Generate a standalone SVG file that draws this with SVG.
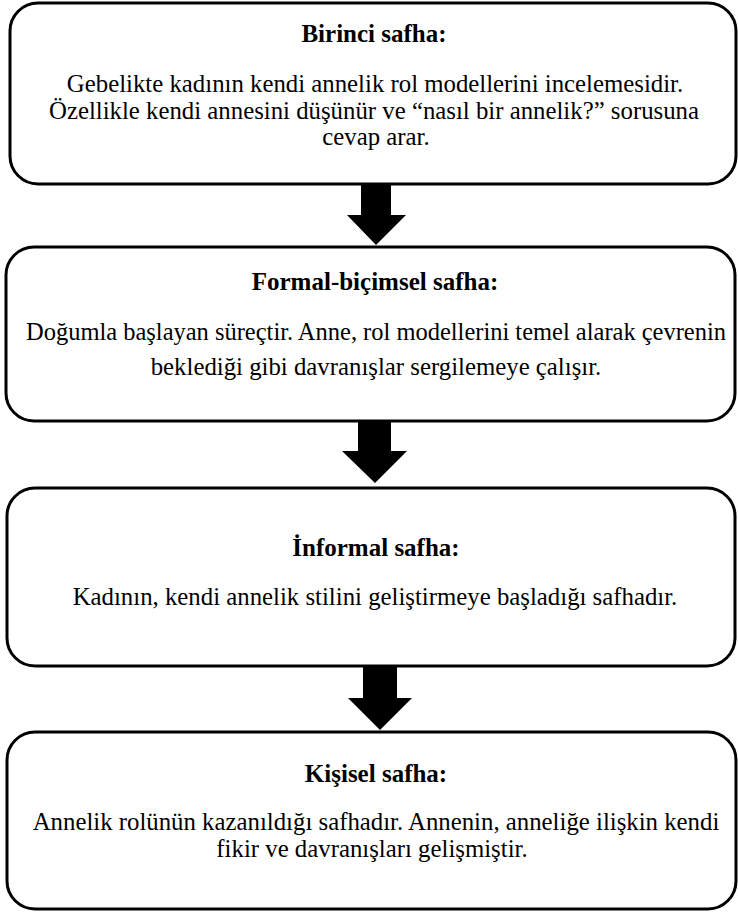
<svg xmlns="http://www.w3.org/2000/svg" width="738" height="914" viewBox="0 0 738 914">
<style>
.box{fill:#fff;stroke:#000;stroke-width:3}
.t{font-family:"Liberation Serif","Times New Roman",serif;font-size:25px;font-weight:bold;text-anchor:middle;fill:#000}
.b{font-family:"Liberation Serif","Times New Roman",serif;font-size:24.8px;font-weight:normal;text-anchor:middle;fill:#000}
.arr{fill:#000}
</style>
<rect width="738" height="914" fill="#fff"/>
<g id="node1">
<rect class="box" x="10" y="3" width="726" height="181" rx="28"/>
<text class="t" x="374" y="42">Birinci safha:</text>
<text class="b" x="375" y="92">Gebelikte kadının kendi annelik rol modellerini incelemesidir.</text>
<text class="b" x="374" y="119">Özellikle kendi annesini düşünür ve “nasıl bir annelik?” sorusuna</text>
<text class="b" x="376" y="145">cevap arar.</text>
</g>
<g id="node2">
<rect class="box" x="6" y="247" width="729" height="174" rx="28"/>
<text class="t" x="375" y="290">Formal-biçimsel safha:</text>
<text class="b" x="376" y="340" textLength="700" lengthAdjust="spacingAndGlyphs">Doğumla başlayan süreçtir. Anne, rol modellerini temel alarak çevrenin</text>
<text class="b" x="376" y="375">beklediği gibi davranışlar sergilemeye çalışır.</text>
</g>
<g id="node3">
<rect class="box" x="7" y="488" width="728" height="178" rx="28"/>
<text class="t" x="376" y="556">İnformal safha:</text>
<text class="b" x="375" y="605">Kadının, kendi annelik stilini geliştirmeye başladığı safhadır.</text>
</g>
<g id="node4">
<rect class="box" x="7" y="732" width="729" height="177" rx="28"/>
<text class="t" x="376" y="782">Kişisel safha:</text>
<text class="b" x="376" y="830">Annelik rolünün kazanıldığı safhadır. Annenin, anneliğe ilişkin kendi</text>
<text class="b" x="372" y="857">fikir ve davranışları gelişmiştir.</text>
</g>
<g id="connectors">
<polygon class="arr" points="361,184 391,184 391,215 406,215 376,245 347,215 361,215"/>
<polygon class="arr" points="358,421 391,421 391,451 407,451 375,483 342,451 358,451"/>
<polygon class="arr" points="363,666 397,666 397,698 412,698 380,730 348,698 363,698"/>
</g>
</svg>
